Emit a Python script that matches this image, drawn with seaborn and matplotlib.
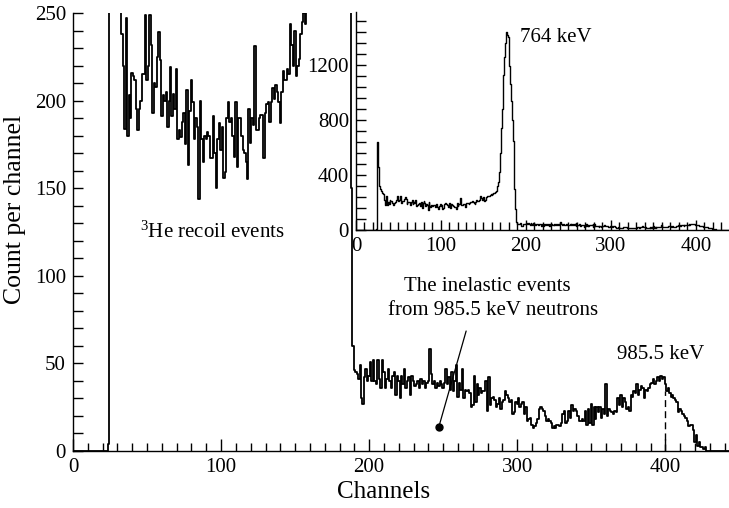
import numpy as np
import pandas as pd
import seaborn as sns
import matplotlib
matplotlib.use("Agg")
import matplotlib.pyplot as plt
from matplotlib.ticker import MultipleLocator

# ---------------- data (counts per channel, channel index = position) ----------------
counts_0_24 = [0] * 24 + [4]
counts_25_33 = [640, 460, 370, 320, 300, 285, 272, 262, 238]
counts_34_91 = [220, 184, 247, 180, 203, 190, 216, 214, 212, 195, 183, 195, 200, 215, 215,
                249, 212, 220, 249, 232, 193, 210, 208, 225, 239, 223, 191, 203, 200, 205,
                185, 200, 219, 191, 204, 195, 218, 178, 183, 179, 188, 193, 175, 206, 163,
                194, 212, 199, 178, 190, 185, 144, 200, 178, 165, 180, 178, 182]
counts_92_160 = [180, 167, 167, 191, 170, 150, 178, 187, 172, 185, 156, 159, 190, 199, 188,
                 190, 180, 168, 199, 162, 190, 190, 180, 172, 170, 165, 155, 195, 176, 190,
                 186, 231, 183, 183, 190, 192, 192, 167, 193, 198, 199, 188, 199, 207, 201,
                 209, 205, 199, 187, 205, 217, 212, 212, 218, 215, 244, 232, 220, 240, 214,
                 220, 224, 238, 245, 250, 244, 253, 262, 258]
counts_161_189 = [262, 266, 270, 276, 285, 300, 320, 350, 420, 560, 740, 880, 1000, 1130,
                  1260, 1360, 1440, 1420, 1400, 1300, 1190, 1060, 940, 800, 650, 480, 300,
                  150, 60]
counts_190_242 = [46, 45, 44, 41, 49, 30, 27, 42, 47, 40, 43, 51, 40, 52, 40, 38, 52, 41, 36,
                  52, 45, 36, 41, 47, 40, 36, 43, 45, 32, 43, 40, 30, 43, 38, 47, 36, 40, 42,
                  32, 43, 40, 37, 38, 40, 36, 41, 38, 40, 36, 39, 40, 58, 44]
counts_243_257 = [38, 40, 36, 39, 37, 40, 38, 36, 39, 47, 38, 42, 35, 45, 34]
counts_258_354 = [40, 49, 31, 39, 35, 47, 30, 35, 34, 35, 33, 25, 26, 43, 28, 38, 32, 36, 33,
                  34, 34, 40, 23, 42, 26, 30, 31, 29, 25, 27, 30, 24, 28, 29, 34, 32, 30, 28,
                  29, 21, 22, 28, 27, 30, 25, 27, 28, 21, 25, 17, 18, 19, 15, 13, 14, 16, 18,
                  24, 25, 24, 23, 20, 17, 18, 17, 16, 13, 14, 13, 15, 15, 14, 16, 21, 23, 16,
                  17, 23, 19, 26, 23, 24, 23, 20, 17, 17, 18, 17, 23, 15, 24, 16, 27, 15, 25,
                  18, 25]
counts_355_443 = [22, 25, 19, 24, 21, 38, 20, 24, 23, 22, 21, 23, 22, 30, 26, 32, 25, 30, 28,
                  24, 25, 23, 32, 31, 34, 33, 38, 32, 35, 37, 36, 30, 35, 34, 36, 38, 39, 41,
                  38, 40, 42, 40, 43, 41, 42, 38, 34, 36, 33, 31, 32, 30, 29, 28, 22, 24, 23,
                  21, 20, 19, 17, 14, 15, 15, 12, 5, 9, 3, 5, 2, 2, 1, 2] + [0] * 16

counts = (counts_0_24 + counts_25_33 + counts_34_91 + counts_92_160 + counts_161_189 +
          counts_190_242 + counts_243_257 + counts_258_354 + counts_355_443)
channels = list(range(len(counts)))

main_xticks = [0, 100, 200, 300, 400]
main_yticks = [0, 50, 100, 150, 200, 250]
inset_xticks = [0, 100, 200, 300, 400]
inset_yticks = [0, 400, 800, 1200]
peak_channel = 400
peak_marker_top = 34

df = pd.DataFrame({"Channels": channels, "Count": counts})

# ---------------- style ----------------
sns.set_theme(style="ticks")
plt.rcParams["font.family"] = ["Liberation Serif", "DejaVu Serif"]
plt.rcParams["mathtext.fontset"] = "custom"
plt.rcParams["mathtext.rm"] = "Liberation Serif"
plt.rcParams["mathtext.it"] = "Liberation Serif:italic"
plt.rcParams["text.color"] = "black"
plt.rcParams["axes.labelcolor"] = "black"
plt.rcParams["axes.linewidth"] = 1.0
FS = 15

fig = plt.figure(figsize=(7.29, 5.08), dpi=100)

# ---------------- main axes ----------------
ax = fig.add_axes([73 / 729, 57 / 508, 656 / 729, 438 / 508])
sns.lineplot(data=df, x="Channels", y="Count", drawstyle="steps-mid", color="black",
             lw=1.3, estimator=None, ax=ax)
ax.set_xlim(0, 443)
ax.set_ylim(0, 250)
ax.set_xticks(main_xticks)
ax.set_yticks(main_yticks)
ax.xaxis.set_minor_locator(MultipleLocator(10))
ax.yaxis.set_minor_locator(MultipleLocator(10))
ax.tick_params(axis="both", which="both", direction="in", colors="black",
               labelsize=FS, width=1.0)
ax.tick_params(axis="x", which="major", length=8.6, pad=5)
ax.tick_params(axis="x", which="minor", length=5.8)
ax.tick_params(axis="y", which="major", length=7.2, pad=5)
ax.tick_params(axis="y", which="minor", length=7.2)
for s in ["top", "right"]:
    ax.spines[s].set_visible(False)
for s in ["left", "bottom"]:
    ax.spines[s].set_color("black")
ax.set_xlabel("Channels", fontsize=18)
ax.set_ylabel("Count per channel", fontsize=18.5)
ax.xaxis.set_label_coords(311 / 656, -30 / 438)
ax.yaxis.set_label_coords(-47 / 656, 242 / 438)

ax.vlines(peak_channel, 0, peak_marker_top, colors="black", linestyles=(0, (5, 3)), lw=1.0)
ax.text(45, 125, r"$^{3}$He recoil events", fontsize=FS, ha="left", va="center")
ax.text(280, 94, "The inelastic events", fontsize=FS, ha="center", va="center")
ax.text(284, 80, "from 985.5 keV neutrons", fontsize=FS, ha="center", va="center")
ax.text(397, 55, "985.5 keV", fontsize=FS, ha="center", va="center")
ax.annotate("", xy=(247, 13.6), xytext=(266, 70),
            arrowprops=dict(arrowstyle="-", color="black", lw=0.9))
ax.plot([247], [13.6], marker="o", ms=5, color="black")

# ---------------- inset ----------------
ins = fig.add_axes([356 / 729, 1 - 230 / 508, 1 - 356 / 729, 218 / 508])
ins.set_facecolor("white")
sns.lineplot(data=df, x="Channels", y="Count", drawstyle="steps-mid", color="black",
             lw=1.0, estimator=None, ax=ins)
ins.set_xlim(0, 439)
ins.set_ylim(0, 1585)
ins.set_xticks(inset_xticks)
ins.set_yticks(inset_yticks)
ins.xaxis.set_minor_locator(MultipleLocator(10))
ins.yaxis.set_minor_locator(MultipleLocator(80))
ins.tick_params(axis="both", which="both", direction="in", colors="black",
                labelsize=FS, width=1.0)
ins.tick_params(axis="x", which="major", length=7.2, pad=5)
ins.tick_params(axis="x", which="minor", length=5.8)
ins.tick_params(axis="y", which="both", length=7.2, pad=5)
for s in ["top", "right"]:
    ins.spines[s].set_visible(False)
for s in ["left", "bottom"]:
    ins.spines[s].set_color("black")
ins.set_xlabel("")
ins.set_ylabel("")
ins.text(193, 1396, "764 keV", fontsize=FS, ha="left", va="center")

fig.savefig("out.png", dpi=100)
